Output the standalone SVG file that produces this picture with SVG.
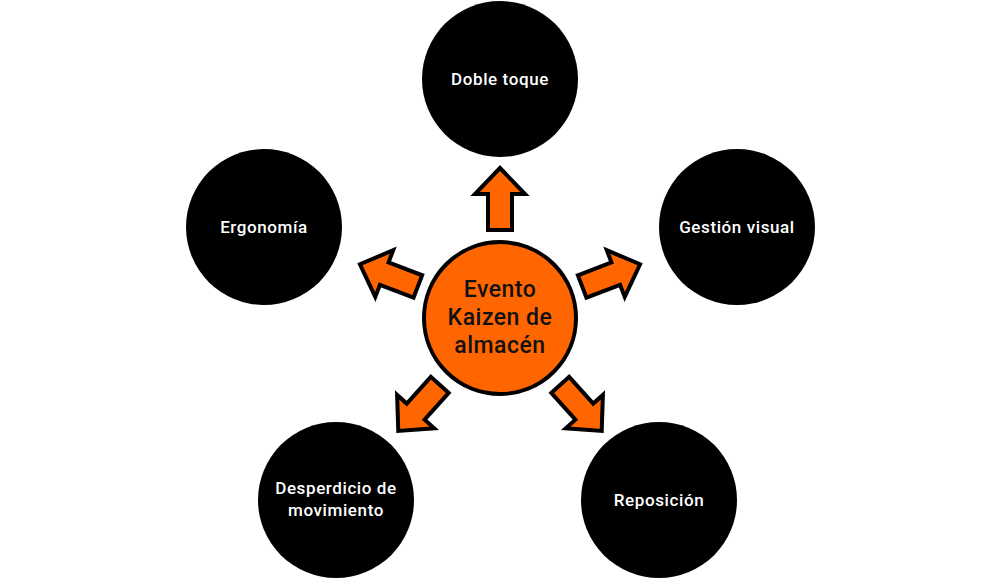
<svg xmlns="http://www.w3.org/2000/svg" width="1000" height="580" viewBox="0 0 1000 580">
<defs>
<style>
.n{fill:#000}
.t{fill:#fff;font-family:Roboto,"Liberation Sans",sans-serif;font-weight:500;font-size:17px;letter-spacing:0.6px;text-anchor:middle}
.c{fill:#ff6600;stroke:#000;stroke-width:4}
.ct{fill:#111;font-family:Roboto,"Liberation Sans",sans-serif;font-weight:500;font-size:23px;letter-spacing:0.5px;text-anchor:middle}
.a{fill:#ff6600;stroke:#000;stroke-width:4;stroke-linejoin:miter}
</style>
<path id="arr" d="M0,-12 L36,-12 L36,-25 L62,0 L36,25 L36,12 L0,12 Z"/>
</defs>
<g id="connectors">
<use href="#arr" class="a" transform="translate(500,318) rotate(-90) translate(88,0)"/>
<use href="#arr" class="a" transform="translate(500,318) rotate(-21) translate(88,0)"/>
<use href="#arr" class="a" transform="translate(500,318) rotate(-159) translate(88,0)"/>
<use href="#arr" class="a" transform="translate(500,318) rotate(48) translate(90,0)"/>
<use href="#arr" class="a" transform="translate(500,318) rotate(132) translate(90,0)"/>
</g>
<g id="center"><circle class="c" cx="500" cy="318" r="76"/>
<text class="ct" x="500" y="297">Evento</text><text class="ct" x="500" y="325">Kaizen de</text><text class="ct" x="500" y="353">almacén</text></g>
<g id="doble"><circle class="n" cx="500" cy="79" r="78"/><text class="t" x="500" y="85">Doble toque</text></g>
<g id="gestion"><circle class="n" cx="737" cy="227" r="78"/><text class="t" x="737" y="233">Gestión visual</text></g>
<g id="ergonomia"><circle class="n" cx="264" cy="227" r="78"/><text class="t" x="264" y="233">Ergonomía</text></g>
<g id="desperdicio"><circle class="n" cx="336" cy="500" r="78"/><text class="t" x="336" y="494">Desperdicio de</text><text class="t" x="336" y="516">movimiento</text></g>
<g id="reposicion"><circle class="n" cx="659" cy="500" r="78"/><text class="t" x="659" y="506">Reposición</text></g>
</svg>
